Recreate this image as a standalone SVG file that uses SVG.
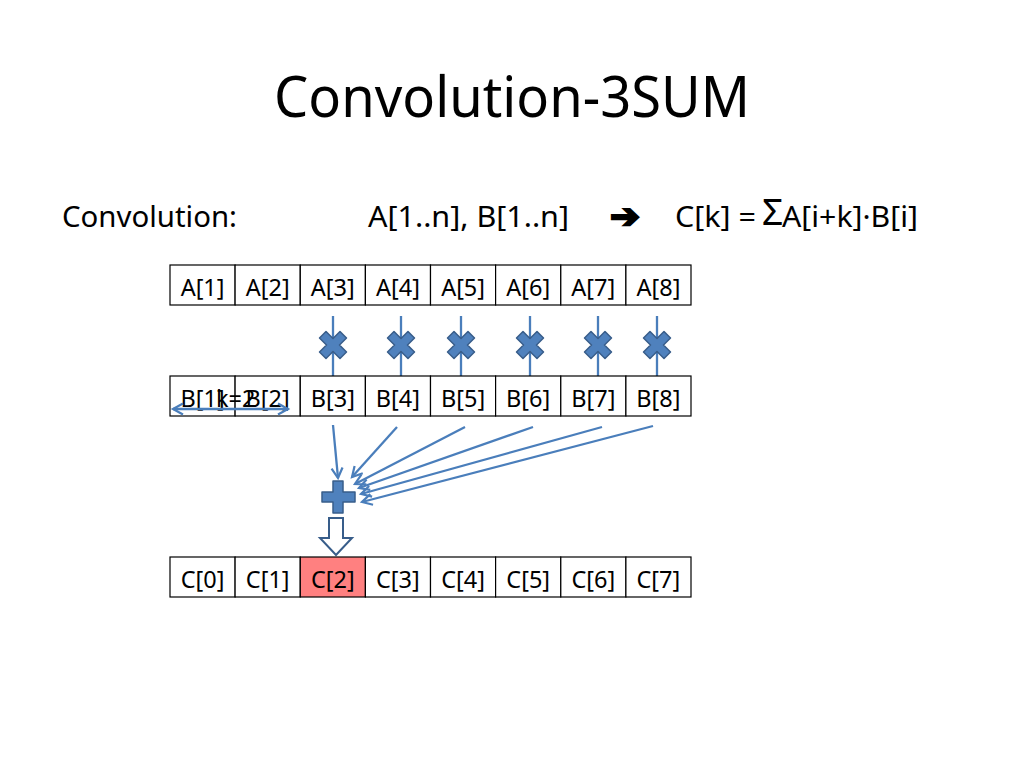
<svg xmlns="http://www.w3.org/2000/svg" width="1024" height="768" viewBox="0 0 1024 768">
<style>
text{font-family:"Noto Sans","Open Sans","Liberation Sans",sans-serif;fill:#000}
.cell rect{fill:#fff;stroke:#000;stroke-width:1.2}
.cell text{font-size:23.5px;text-anchor:middle}
.hl rect{fill:#FF8080}
.body{font-size:28.5px}
.conn{stroke:#4A7EBB;stroke-width:2.3;fill:none}
.mul{fill:#4F81BD;stroke:#385D8A;stroke-width:1.5;stroke-linejoin:round}
</style>
<defs>
<marker id="oa" markerUnits="userSpaceOnUse" markerWidth="14" markerHeight="14" refX="11" refY="6" orient="auto-start-reverse" viewBox="0 0 14 12">
<path d="M1,0.5 L11,6 L1,11.5" fill="none" stroke="#4A7EBB" stroke-width="2.2"/>
</marker>
<polygon id="x" points="-13.5,-7 -7,-13.5 0,-6.5 7,-13.5 13.5,-7 6.5,0 13.5,7 7,13.5 0,6.5 -7,13.5 -13.5,7 -6.5,0"/>
</defs>
<rect width="1024" height="768" fill="#fff"/>
<text x="512" y="117" font-size="57" text-anchor="middle" textLength="476" lengthAdjust="spacingAndGlyphs">Convolution-3SUM</text>
<text class="body" x="62" y="227" textLength="175" lengthAdjust="spacingAndGlyphs">Convolution:</text>
<text class="body" x="368" y="227" textLength="201" lengthAdjust="spacingAndGlyphs">A[1..n], B[1..n]</text>
<text x="610" y="228" font-size="34" stroke="#000" stroke-width="2.2" style="font-family:'DejaVu Sans',sans-serif" textLength="30" lengthAdjust="spacingAndGlyphs">➔</text>
<text class="body" x="675" y="227" textLength="81" lengthAdjust="spacingAndGlyphs">C[k] =</text>
<text x="762" y="225" font-size="37">Σ</text>
<text class="body" x="782" y="227" textLength="136" lengthAdjust="spacingAndGlyphs">A[i+k]·B[i]</text>

<g id="rowA">
<g id="A1" class="cell"><rect x="170" y="265" width="65.1" height="40"/><text x="202.6" y="296">A[1]</text></g>
<g id="A2" class="cell"><rect x="235.1" y="265" width="65.1" height="40"/><text x="267.7" y="296">A[2]</text></g>
<g id="A3" class="cell"><rect x="300.3" y="265" width="65.1" height="40"/><text x="332.8" y="296">A[3]</text></g>
<g id="A4" class="cell"><rect x="365.4" y="265" width="65.1" height="40"/><text x="397.9" y="296">A[4]</text></g>
<g id="A5" class="cell"><rect x="430.5" y="265" width="65.1" height="40"/><text x="463.1" y="296">A[5]</text></g>
<g id="A6" class="cell"><rect x="495.6" y="265" width="65.1" height="40"/><text x="528.2" y="296">A[6]</text></g>
<g id="A7" class="cell"><rect x="560.8" y="265" width="65.1" height="40"/><text x="593.3" y="296">A[7]</text></g>
<g id="A8" class="cell"><rect x="625.9" y="265" width="65.1" height="40"/><text x="658.4" y="296">A[8]</text></g>
</g>

<g id="connectors">
<line class="conn" x1="333" y1="316" x2="333" y2="376"/>
<line class="conn" x1="401" y1="316" x2="401" y2="376"/>
<line class="conn" x1="461" y1="316" x2="461" y2="376"/>
<line class="conn" x1="530" y1="316" x2="530" y2="376"/>
<line class="conn" x1="598" y1="316" x2="598" y2="376"/>
<line class="conn" x1="657" y1="316" x2="657" y2="376"/>
<line class="conn" x1="333" y1="425" x2="338" y2="478" marker-end="url(#oa)"/>
<line class="conn" x1="397" y1="427" x2="352" y2="477" marker-end="url(#oa)"/>
<line class="conn" x1="465" y1="427" x2="355" y2="484" marker-end="url(#oa)"/>
<line class="conn" x1="533" y1="427" x2="359" y2="488" marker-end="url(#oa)"/>
<line class="conn" x1="602" y1="427" x2="361" y2="494" marker-end="url(#oa)"/>
<line class="conn" x1="653" y1="426" x2="362" y2="502" marker-end="url(#oa)"/>
</g>

<g id="mult">
<use href="#x" class="mul" x="333" y="345"/>
<use href="#x" class="mul" x="401" y="345"/>
<use href="#x" class="mul" x="461" y="345"/>
<use href="#x" class="mul" x="530" y="345"/>
<use href="#x" class="mul" x="598" y="345"/>
<use href="#x" class="mul" x="657" y="345"/>
</g>

<g id="rowB">
<g id="B1" class="cell"><rect x="170" y="376" width="65.1" height="40"/><text x="202.6" y="407">B[1]</text></g>
<g id="B2" class="cell"><rect x="235.1" y="376" width="65.1" height="40"/><text x="267.7" y="407">B[2]</text></g>
<g id="B3" class="cell"><rect x="300.3" y="376" width="65.1" height="40"/><text x="332.8" y="407">B[3]</text></g>
<g id="B4" class="cell"><rect x="365.4" y="376" width="65.1" height="40"/><text x="397.9" y="407">B[4]</text></g>
<g id="B5" class="cell"><rect x="430.5" y="376" width="65.1" height="40"/><text x="463.1" y="407">B[5]</text></g>
<g id="B6" class="cell"><rect x="495.6" y="376" width="65.1" height="40"/><text x="528.2" y="407">B[6]</text></g>
<g id="B7" class="cell"><rect x="560.8" y="376" width="65.1" height="40"/><text x="593.3" y="407">B[7]</text></g>
<g id="B8" class="cell"><rect x="625.9" y="376" width="65.1" height="40"/><text x="658.4" y="407">B[8]</text></g>
</g>

<g id="shift">
<line class="conn" x1="173" y1="409" x2="288" y2="409" marker-start="url(#oa)" marker-end="url(#oa)"/>
<text x="216" y="407" font-size="23.5">k=2</text>
</g>

<g id="plus">
<polygon class="mul" points="333,481 343,481 343,492 355,492 355,502 343,502 343,513 333,513 333,502 322,502 322,492 333,492"/>
</g>

<g id="down">
<polygon points="329,518 343,518 343,538 352,538 336,555 320,538 329,538" fill="#fff" stroke="#385D8A" stroke-width="2" stroke-linejoin="miter"/>
</g>

<g id="rowC">
<g id="C0" class="cell"><rect x="170" y="557" width="65.1" height="40"/><text x="202.6" y="588">C[0]</text></g>
<g id="C1" class="cell"><rect x="235.1" y="557" width="65.1" height="40"/><text x="267.7" y="588">C[1]</text></g>
<g id="C2" class="cell hl"><rect x="300.3" y="557" width="65.1" height="40"/><text x="332.8" y="588">C[2]</text></g>
<g id="C3" class="cell"><rect x="365.4" y="557" width="65.1" height="40"/><text x="397.9" y="588">C[3]</text></g>
<g id="C4" class="cell"><rect x="430.5" y="557" width="65.1" height="40"/><text x="463.1" y="588">C[4]</text></g>
<g id="C5" class="cell"><rect x="495.6" y="557" width="65.1" height="40"/><text x="528.2" y="588">C[5]</text></g>
<g id="C6" class="cell"><rect x="560.8" y="557" width="65.1" height="40"/><text x="593.3" y="588">C[6]</text></g>
<g id="C7" class="cell"><rect x="625.9" y="557" width="65.1" height="40"/><text x="658.4" y="588">C[7]</text></g>
</g>
</svg>
